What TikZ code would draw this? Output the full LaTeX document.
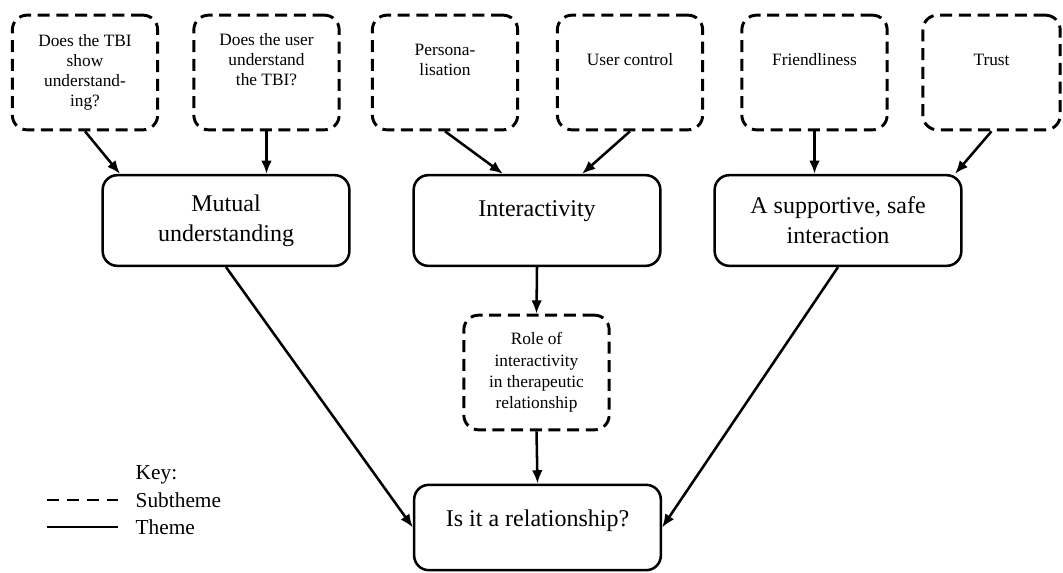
\documentclass[tikz,border=0pt]{standalone}
\usepackage{fontspec}
\setmainfont{Liberation Serif}
\usetikzlibrary{arrows.meta,calc}

\tikzset{
  subtheme/.style={draw, dash pattern=on 9pt off 5pt, line width=2.2pt, rounded corners=11pt,
    minimum width=109pt, minimum height=86pt, align=center, inner sep=2pt,
    font=\fontsize{13}{15}\selectfont},
  theme/.style={draw, line width=1.9pt, rounded corners=11pt,
    minimum width=185pt, minimum height=68pt, align=center,
    font=\fontsize{18}{22.5}\selectfont},
  link/.style={line width=1.9pt, -{Latex[length=10pt,width=8pt]}},
  keytext/.style={anchor=west, font=\fontsize{16}{19}\selectfont},
}

\begin{document}
\begin{tikzpicture}[x=0.75pt,y=0.75pt,yscale=-1]
%set diagram size: 1063 x 572
\useasboundingbox (0,0) rectangle (1063,572);

%Shape: Subtheme boxes (top row)
\node [subtheme] (tbishow) at (85,72.5) {Does the TBI\\show\\understand-\\ing?};
\node [subtheme] (userund) at (266.5,72.5) {Does the user\\understand\\the TBI?\\\strut};
\node [subtheme] (personal) at (445,72.5) {Persona-\\lisation\\\strut};
\node [subtheme] (usercontrol) at (630,72.5) {User control\\\strut};
\node [subtheme] (friendly) at (814.5,72.5) {Friendliness\\\strut};
\node [subtheme, minimum width=103pt] (trust) at (991.5,72.5) {Trust\\\strut};

%Shape: Theme boxes
\node [theme] (mutual) at (226,220.5) {Mutual\\understanding};
\node [theme] (inter) at (537,220.5) {Interactivity\\[-12pt]\strut};
\node [theme] (support) at (838,220.5) {A supportive, safe\\interaction};

%Shape: Subtheme under Interactivity
\node [subtheme, font=\fontsize{13}{16}\selectfont] (role) at (536.5,372.5) {Role of\\interactivity\\in therapeutic\\relationship};

%Shape: Final theme
\node [theme, minimum height=64pt] (relation) at (537.5,527.5) {Is it a relationship?\\[-15pt]\strut};

%Straight Lines: subthemes to themes
\draw [link] (tbishow.south) -- ($(mutual.north)+(-106,0)$);
\draw [link] (userund.south) -- (userund.south |- mutual.north);
\draw [link] (personal.south) -- ($(inter.north)+(-34,0)$);
\draw [link] (usercontrol.south) -- ($(inter.north)+(45,0)$);
\draw [link] (friendly.south) -- (friendly.south |- support.north);
\draw [link] (trust.south) -- ($(support.north)+(117,0)$);

%Straight Lines: themes to relationship
\draw [link] (mutual.south) -- (relation.west);
\draw [link] (support.south) -- (relation.east);
\draw [link] (inter.south) -- (role.north);
\draw [link] (role.south) -- (relation.north);

%Key
\node [keytext] (keytitle) at (131,475) {Key:};
\node [keytext] (keysub) at (131,500) {Subtheme};
\node [keytext] (keytheme) at (131,527) {Theme};
\coordinate (subleft) at (47,500);
\coordinate (subright) at (118,500);
\coordinate (themeleft) at (47,527);
\coordinate (themeright) at (118,527);
\draw [line width=2.2pt, dash pattern=on 9pt off 6pt] (subleft) -- (subright);
\draw [line width=2.2pt] (themeleft) -- (themeright);

\end{tikzpicture}
\end{document}
